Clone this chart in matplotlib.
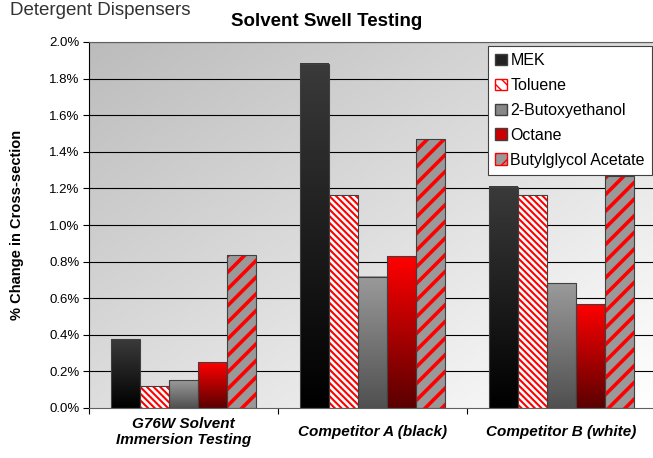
import numpy as np
import matplotlib
matplotlib.use('Agg')
import matplotlib.pyplot as plt
from matplotlib.patches import Patch
from matplotlib.colors import LinearSegmentedColormap
from matplotlib.transforms import blended_transform_factory

plt.rcParams['font.family'] = ['Liberation Sans', 'DejaVu Sans']

categories = ['G76W Solvent\nImmersion Testing', 'Competitor A (black)', 'Competitor B (white)']
series = ['MEK', 'Toluene', '2-Butoxyethanol', 'Octane', 'Butylglycol Acetate']
mek = [0.377, 1.88, 1.208]
toluene = [0.12, 1.164, 1.164]
butoxy = [0.153, 0.716, 0.683]
octane = [0.25, 0.83, 0.568]
butylglycol = [0.836, 1.47, 1.268]
values = [mek, toluene, butoxy, octane, butylglycol]

fig = plt.figure(figsize=(6.53, 4.58), dpi=100)
ax = fig.add_axes([89/653, 1-408/458, 567/653, 366/458])
ax.set_xlim(0, 3)
ax.set_ylim(0, 2.0)

# background gradient (grey top-left -> white bottom-right)
gx, gy = np.meshgrid(np.linspace(0, 1, 200), np.linspace(0, 1, 200))
g = (gx + (1 - gy)) / 2
bg_cmap = LinearSegmentedColormap.from_list('bg', ['#bcbcbc', '#ffffff'])
ax.imshow(g, extent=[0, 3, 2.0, 0], cmap=bg_cmap, aspect='auto', zorder=0, vmin=0, vmax=1)

for yv in np.arange(0.2, 2.01, 0.2):
    ax.axhline(yv, color='black', lw=0.8, zorder=1)

grad_cmaps = {
    0: ['#000000', '#3a3a3a'],
    2: ['#505050', '#9a9a9a'],
    3: ['#5a0000', '#ff0000'],
}
bw = 29 / 189
start = 22 / 189
for i, s in enumerate(series):
    for j in range(3):
        x0 = j + start + i * bw
        h = values[i][j]
        if i in grad_cmaps:
            cm = LinearSegmentedColormap.from_list('c%d' % i, grad_cmaps[i])
            grad = np.linspace(0, 1, 100).reshape(-1, 1)
            ax.imshow(grad, extent=[x0, x0 + bw, 0, h], origin='lower', cmap=cm,
                      aspect='auto', zorder=2)
        elif i == 1:
            b = ax.bar(x0, h, bw, align='edge', facecolor='white', edgecolor='red',
                       hatch='\\\\\\\\\\', lw=0, zorder=2)
            for p in b:
                p.set_hatch_linewidth(1.5)
        else:
            b = ax.bar(x0, h, bw, align='edge', facecolor='#999999', edgecolor='red',
                       hatch='//', lw=0, zorder=2)
            for p in b:
                p.set_hatch_linewidth(2.6)
        ax.bar(x0, h, bw, align='edge', facecolor='none', edgecolor='#404040', lw=0.8, zorder=3)

ax.set_xlim(0, 3)
ax.set_ylim(0, 2.0)
ax.set_yticks(np.arange(0, 2.01, 0.2))
ax.set_yticklabels(['%.1f%%' % v for v in np.arange(0, 2.01, 0.2)], fontsize=9.5)
ax.set_xticks([0, 1, 2, 3])
ax.set_xticklabels([])
ax.tick_params(axis='x', which='major', length=4, direction='out', color='black')
ax.tick_params(axis='y', length=4, direction='out', pad=3)
ax.spines['top'].set_color('#606060')
ax.spines['right'].set_visible(False)
ax.spines['bottom'].set_color('#606060')
ax.spines['left'].set_color('black')
ax.set_ylabel('% Change in Cross-section', fontsize=10.5, fontweight='bold', labelpad=18)

trans = blended_transform_factory(ax.transData, fig.transFigure)
for j, c in enumerate(categories):
    ax.text(j + 0.5, 1-432/458, c, transform=trans, ha='center', va='center',
            fontsize=11, fontweight='bold', fontstyle='italic', linespacing=1.2)

handles = [
    Patch(facecolor='#222222', edgecolor='#404040'),
    Patch(facecolor='white', edgecolor='red', hatch='\\\\\\'),
    Patch(facecolor='#888888', edgecolor='#404040'),
    Patch(facecolor='#cc0000', edgecolor='#404040'),
    Patch(facecolor='#999999', edgecolor='red', hatch='//'),
]
leg = ax.legend(handles, series, loc='upper right', bbox_to_anchor=(652/653, 1-46/458),
                bbox_transform=fig.transFigure, fontsize=11.5, handlelength=0.75, handleheight=0.75,
                handletextpad=0.2, labelspacing=0.62, borderpad=0.45, borderaxespad=0,
                fancybox=False, framealpha=1, edgecolor='#404040')
leg.get_frame().set_linewidth(0.8)

fig.text(327/653, 1-22/458, 'Solvent Swell Testing', ha='center', va='center',
         fontsize=13.5, fontweight='bold')
fig.text(10/653, 1-15/458, 'Detergent Dispensers', ha='left', va='baseline',
         fontsize=13.5, color='#333333')

fig.savefig('out.png', dpi=100)
